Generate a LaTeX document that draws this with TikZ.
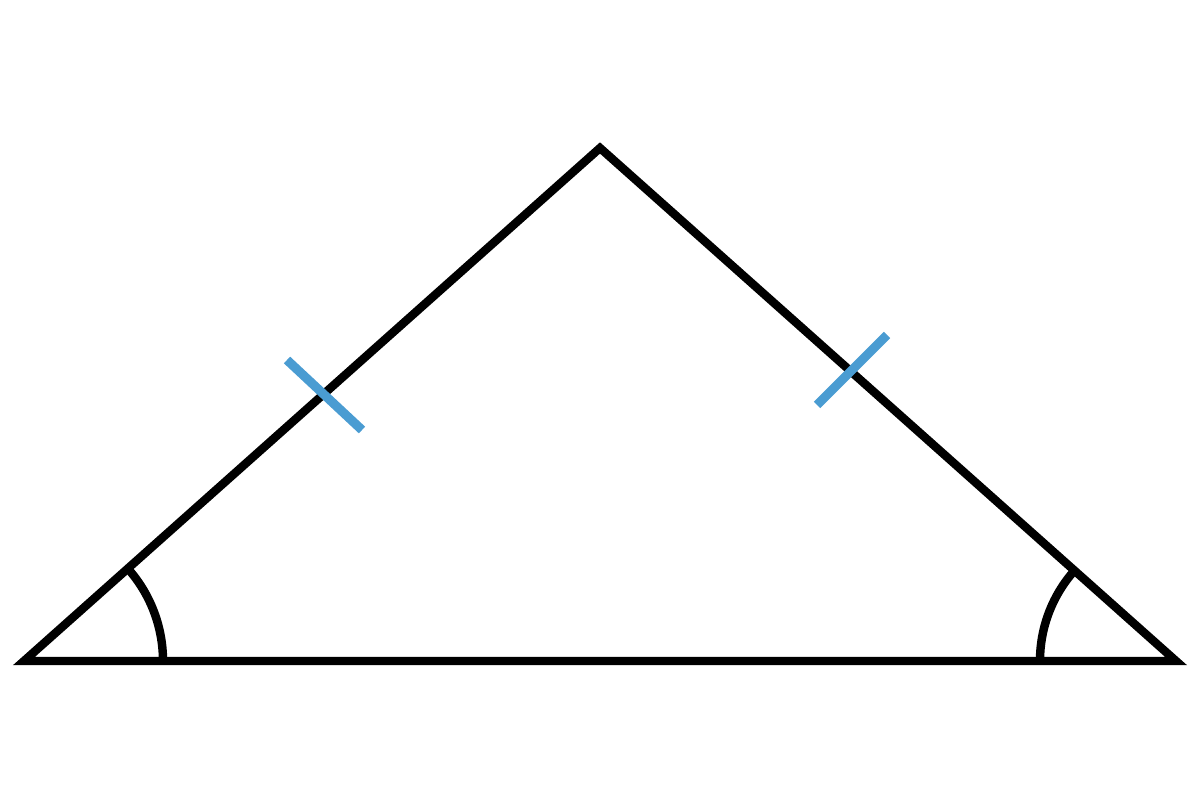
\documentclass[tikz,border=0pt]{standalone}
\usetikzlibrary{calc}
\usepackage{xcolor}
\definecolor{tickblue}{RGB}{74,156,210}

\begin{document}
\begin{tikzpicture}[side/.style={black, line width=2.4pt}, tick/.style={tickblue, line width=2.6pt}]
\useasboundingbox (0,0) rectangle (12,8);
\coordinate (A) at (0.24,1.39);
\coordinate (B) at (6.00,6.52);
\coordinate (C) at (11.76,1.39);
\draw[side] (A)--(B)--(C)--cycle;
% equal sides
\draw[tick] (2.87,4.40)--(3.62,3.70);
\draw[tick] (8.17,3.95)--(8.87,4.65);
% base angles
\draw[side] ($(A)+(1.39,0)$) arc (0:41.7:1.39);
\draw[side] ($(C)+(-1.36,0)$) arc (180:138.3:1.36);
\end{tikzpicture}
\end{document}
